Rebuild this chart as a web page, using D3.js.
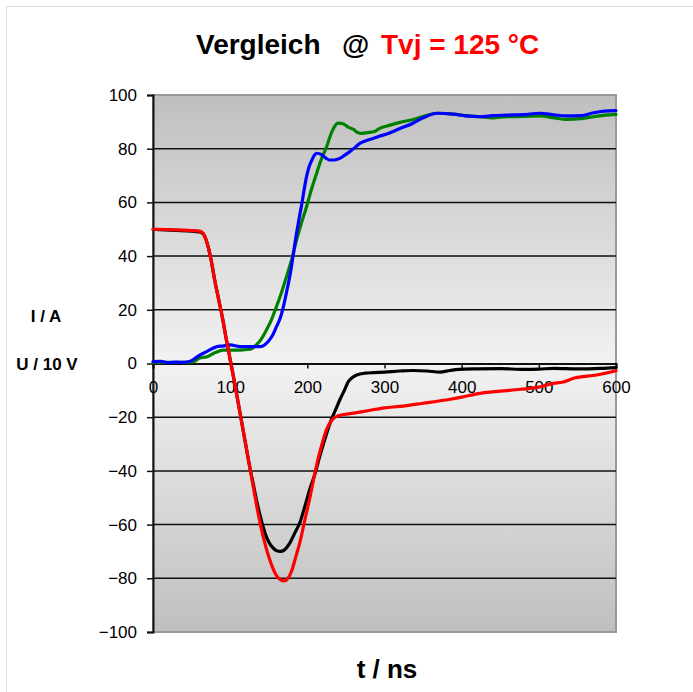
<!DOCTYPE html>
<html><head><meta charset="utf-8">
<script src="https://cdn.jsdelivr.net/npm/d3@7"></script>
<style>body{margin:0;background:#fff}svg{display:block;font-family:"Liberation Sans",Arial,sans-serif}</style>
</head><body><svg id="c" width="693" height="692"></svg>
<script>
// ---- data ----
const xTicks = [0,100,200,300,400,500,600];
const yTicks = [-100,-80,-60,-40,-20,0,20,40,60,80,100];

const redT = [0,30,50,60,65,70,75,80,85,90,95,100,105,110,115,120,125,130,135,140,145,150,155,160,165,170,175,180,185,190,197,204,210,218,225,232,240,260,280,300,320,350,385,400,424,450,476,500,519,530,545,575,600];
const redV = [50,49.8,49.5,49.3,48.5,45,39,31,24,17,9,1.5,-6,-14,-22,-30,-38,-46,-54,-61,-67,-72,-76,-79,-80.5,-81,-80,-77,-72,-67,-58,-49,-40.5,-31,-24.5,-21,-19.5,-18.5,-17.5,-16.5,-16,-14.8,-13.3,-12.5,-11.1,-10.3,-9.6,-8.8,-7.4,-7,-5.5,-4.3,-2.7];

const blackT = [0,30,50,60,65,70,75,80,85,90,95,100,105,110,115,120,125,130,135,140,145,150,155,160,165,170,177,184,190,197,203,210,216,224,231,237,242,248,253,258,264,275,286,300,320,337,355,372,385,396,420,450,480,500,520,550,580,600];
const blackV = [50,49.6,49.3,49.0,48.3,45,39,31,24,17,9,1.5,-6,-14,-22,-30,-38,-45,-52,-58,-63,-66.5,-68.5,-69.7,-70,-69.5,-67,-63,-59.5,-53,-47,-41,-34.7,-27,-21,-17,-13.6,-10,-6.8,-5.3,-4.3,-3.6,-3.4,-3.2,-2.8,-2.6,-2.8,-3.2,-2.6,-2.2,-2,-1.9,-2.2,-2.1,-1.8,-2,-1.8,-1.5];

const greenT = [0,30,50,55,60,70,80,91,113,126,134,140,147,153,160,166,173,180,186,192,199,205,212,218,225,230,234,240,247,253,260,265,270,278,286,294,305,320,337,350,368,389,405,424,440,458,480,501,520,536,555,571,585,600];
const greenV = [0.4,0.4,0.5,1,2,2.5,4,5,5,5.3,6.9,9,12.5,16,21.2,26,32.3,39,46,52,58.4,64.5,70.8,76,80.7,85,87.6,89.5,89.2,88,87.2,86,85.7,86,86.3,87.6,88.6,89.8,90.9,92,93.2,92.9,92.3,91.9,91.5,91.9,92,92.2,91.5,90.9,91.2,91.9,92.5,92.8];

const blueT = [0,10,20,30,40,48,55,61,70,83,90,100,113,125,139,145,149,155,160,165,169,173,178,182,186,190,193,196,199,202,206,209,212,219,224,229,235,242,248,255,262,268,276,286,294,303,320,337,350,368,389,405,424,440,458,480,501,520,536,555,571,585,600];
const blueV = [0.7,0.8,0.3,0.5,0.4,0.8,2,3.2,4.5,6.3,6.5,6.9,6.3,6.3,6.3,7,8.1,10.5,13.7,17,21.2,26.5,33.6,41,48.5,55,59.7,65,69.6,73,75.8,77.5,78.3,77.7,76.5,75.8,75.8,76.4,77.5,78.9,80.5,82,83,83.9,84.7,85.5,87.5,89.5,91.5,93.2,92.9,92.2,91.9,92.3,92.5,92.7,93.2,92.6,92.2,92.3,93.4,94,94.2];

const series = [
  {t: greenT, v: greenV, color: "#008000"},
  {t: blueT,  v: blueV,  color: "#0000ff"},
  {t: blackT, v: blackV, color: "#000000"},
  {t: redT,   v: redV,   color: "#ff0000"}
];

// ---- chart ----
const svg = d3.select("#c");
const x = d3.scaleLinear().domain([0,600]).range([153,616]);
const y = d3.scaleLinear().domain([-100,100]).range([632,95]);

// outer frame
svg.append("rect").attr("x",6.5).attr("y",6.5).attr("width",720).attr("height",720)
  .attr("fill","none").attr("stroke","#dcdcdc").attr("stroke-width",1);

// gradient
const defs = svg.append("defs");
const g = defs.append("linearGradient").attr("id","bg").attr("x1",0).attr("y1",0).attr("x2",0).attr("y2",1);
g.append("stop").attr("offset","0%").attr("stop-color","#bfbfbf");
g.append("stop").attr("offset","50%").attr("stop-color","#f2f2f2");
g.append("stop").attr("offset","100%").attr("stop-color","#bfbfbf");

svg.append("rect").attr("x",x(0)).attr("y",y(100)).attr("width",x(600)-x(0)).attr("height",y(-100)-y(100))
  .attr("fill","url(#bg)").attr("stroke","#9a9a9a").attr("stroke-width",2);

// gridlines
svg.append("g").selectAll("line").data(yTicks.filter(d=>d!==0 && Math.abs(d)!==100)).join("line")
  .attr("x1",x(0)).attr("x2",x(600)).attr("y1",d=>y(d)).attr("y2",d=>y(d))
  .attr("stroke","#111").attr("stroke-width",1.5);

// y axis
const yAxis = svg.append("g").attr("transform",`translate(${x(0)},0)`)
  .call(d3.axisLeft(y).tickValues(yTicks).tickSize(6).tickPadding(10));
yAxis.select(".domain").attr("stroke","#111").attr("stroke-width",2);
yAxis.selectAll(".tick line").attr("stroke","#111").attr("stroke-width",1.5);
yAxis.selectAll("text").attr("font-size",17).attr("fill","#000").attr("font-family","Liberation Sans, Arial, sans-serif");

// x axis at zero
const xAxis = svg.append("g").attr("transform",`translate(0,${y(0)})`)
  .call(d3.axisBottom(x).tickValues(xTicks).tickSize(5).tickPadding(12));
xAxis.select(".domain").attr("stroke","#111").attr("stroke-width",2);
xAxis.selectAll(".tick line").attr("stroke","#111").attr("stroke-width",1.5);
xAxis.selectAll("text").attr("font-size",17).attr("fill","#000").attr("font-family","Liberation Sans, Arial, sans-serif");

// lines
const line = d3.line().x(d=>x(d[0])).y(d=>y(d[1])).curve(d3.curveMonotoneX);
series.forEach(s=>{
  svg.append("path").datum(s.t.map((t,i)=>[t,s.v[i]]))
    .attr("d",line).attr("fill","none").attr("stroke",s.color).attr("stroke-width",3.2)
    .attr("stroke-linejoin","round").attr("stroke-linecap","round");
});

// title
const title = svg.append("text").attr("y",54).attr("font-size",28).attr("font-weight","bold");
title.append("tspan").attr("x",196).attr("fill","#000").text("Vergleich");
title.append("tspan").attr("x",342).attr("fill","#000").text("@");
title.append("tspan").attr("x",381).attr("fill","#ff0000").text("Tvj = 125 °C");

// axis titles
svg.append("text").attr("x",46).attr("y",322).attr("text-anchor","middle").attr("font-size",17).attr("font-weight","bold").text("I / A");
svg.append("text").attr("x",47).attr("y",370).attr("text-anchor","middle").attr("font-size",17).attr("font-weight","bold").text("U / 10 V");
svg.append("text").attr("x",387).attr("y",678).attr("text-anchor","middle").attr("font-size",26).attr("font-weight","bold").text("t / ns");
</script></body></html>
